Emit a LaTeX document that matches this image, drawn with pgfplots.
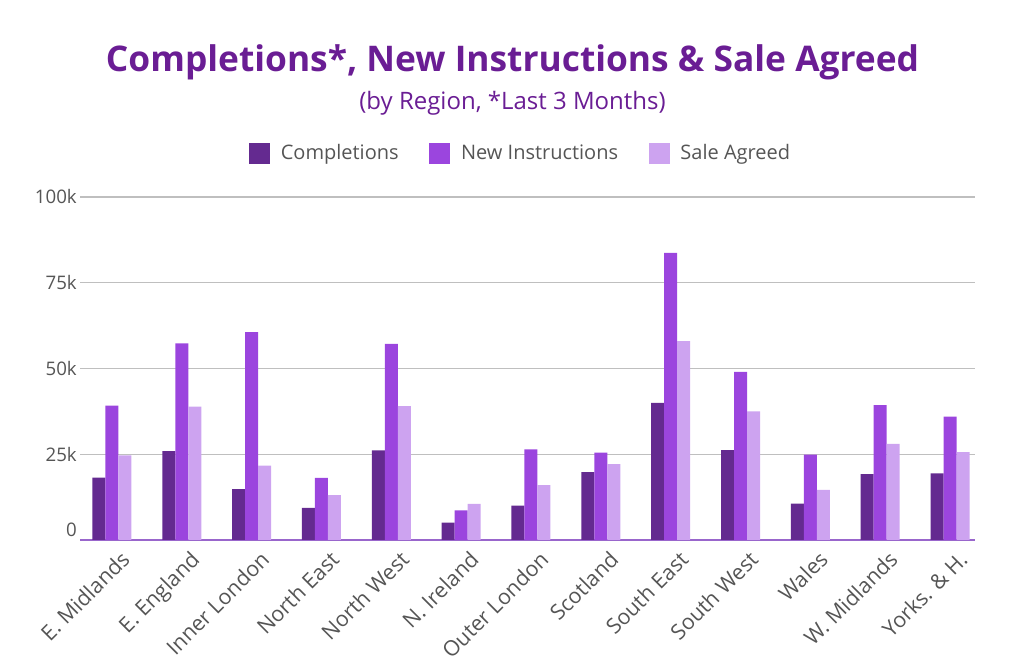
\documentclass[border=0pt]{standalone}
\usepackage{fontspec}
\setmainfont{Open Sans}
\usepackage{pgfplots}
\pgfplotsset{compat=1.18}

\definecolor{compl}{HTML}{642A90}
\definecolor{newins}{HTML}{9B45DE}
\definecolor{saleag}{HTML}{CDA3F0}
\definecolor{titlecol}{HTML}{6A1D94}
\definecolor{txtgray}{HTML}{555555}
\definecolor{baseline}{HTML}{9966CC}

\begin{document}
\begin{tikzpicture}
\path[use as bounding box] (0pt,0pt) rectangle (768.75pt,502.5pt);

\node[font=\fontsize{26.5}{30}\selectfont\bfseries, text=titlecol] at (384.4pt,455.5pt)
  {Completions*, New Instructions \& Sale Agreed};
\node[font=\fontsize{18}{22}\selectfont, text=titlecol] at (384.4pt,425pt)
  {(by Region, *Last 3 Months)};

\begin{axis}[
    at={(60pt,97.5pt)}, anchor=south west,
    scale only axis,
    width=671.25pt, height=257.25pt,
    ybar=0pt, bar width=9.75pt,
    xmin=-0.458, xmax=12.358,
    ymin=0, ymax=100000,
    axis line style={draw=none},
    major tick length=0pt,
    scaled y ticks=false,
    ytick={25000,50000,75000,100000},
    yticklabels={25k,50k,75k,100k},
    extra y ticks={0},
    extra y tick labels={\raisebox{15pt}{0}},
    extra y tick style={grid style={draw=baseline, line width=1.2pt}},
    ymajorgrids=true,
    grid style={draw=black!25, line width=0.9pt},
    yticklabel style={font=\fontsize{14}{16}\selectfont, text=txtgray, inner sep=0pt, xshift=-2.25pt},
    xtick={0,...,12},
    xticklabels={E. Midlands, E. England, Inner London, North East, North West, N. Ireland, Outer London, Scotland, South East, South West, Wales, W. Midlands, Yorks. \& H.},
    xticklabel style={font=\fontsize{16}{18}\selectfont, text=txtgray, rotate=45, anchor=north east, inner sep=0pt, yshift=-9pt, xshift=-1pt},
    legend columns=3,
    legend style={at={(0.4927,1.128)}, anchor=center, draw=none, fill=none,
        font=\fontsize{15}{18}\selectfont, text=txtgray,
        /tikz/every odd column/.append style={column sep=6pt},
        /tikz/every even column/.append style={column sep=21pt}},
    legend image code/.code={\fill[#1] (0pt,-7.9pt) rectangle (15.75pt,7.9pt);},
]
\addplot[fill=compl, draw=none] coordinates {
    (0,18200) (1,25900) (2,14800) (3,9400) (4,26100) (5,5100) (6,10000)
    (7,19800) (8,40000) (9,26200) (10,10600) (11,19200) (12,19400)};
\addlegendentry{Completions}
\addplot[fill=newins, draw=none] coordinates {
    (0,39200) (1,57300) (2,60600) (3,18100) (4,57200) (5,8600) (6,26400)
    (7,25500) (8,83700) (9,49000) (10,24900) (11,39300) (12,36000)};
\addlegendentry{New Instructions}
\addplot[fill=saleag, draw=none] coordinates {
    (0,24700) (1,38900) (2,21700) (3,13100) (4,39000) (5,10500) (6,16000)
    (7,22100) (8,58000) (9,37500) (10,14600) (11,28000) (12,25600)};
\addlegendentry{Sale Agreed}
\end{axis}
\end{tikzpicture}
\end{document}
